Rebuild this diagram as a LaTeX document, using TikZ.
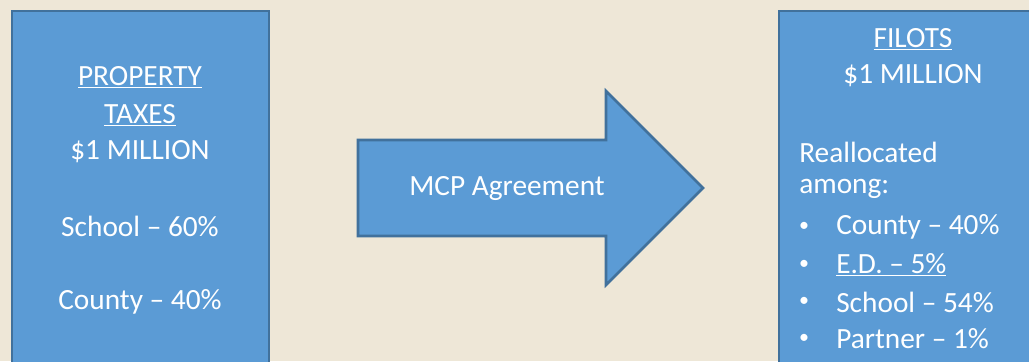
\documentclass[tikz,border=0pt]{standalone}
\usepackage{fontspec}
\setmainfont{Carlito}
\usepackage{xcolor}
\usepackage{tikz}
\usetikzlibrary{positioning}
\definecolor{bgbeige}{HTML}{EEE7D7}
\definecolor{boxblue}{HTML}{5B9BD5}
\definecolor{edgeblue}{HTML}{41719C}
\tikzstyle{panel} = [fill=boxblue, draw=edgeblue, line width=2pt]
\tikzstyle{txt} = [text=white, font=\fontsize{22}{26}\selectfont, inner sep=0pt]
\tikzstyle{dot} = [text=white, font=\fontsize{15}{18}\selectfont, inner sep=0pt]

\begin{document}
\begin{tikzpicture}[x=0.75pt, y=-0.75pt]
% Background
\fill[bgbeige] (0,0) rectangle (1029,361);
\useasboundingbox (0,0) rectangle (1029,361);

% Left box
\draw[panel] (12,11) rectangle (269,375);
\node[txt] (prop) at (140,77) {\underline{PROPERTY}};
\node[txt] (taxes) at (140,115) {\underline{TAXES}};
\node[txt] (lmil) at (140,152) {\$1 MILLION};
\node[txt] (lschool) at (140,226) {School -- 60\%};
\node[txt] (lcounty) at (140,302) {County -- 40\%};

% Arrow
\draw[panel, line join=miter] (358,140) -- (606,140) -- (606,91) -- (703,188)
  -- (606,285) -- (606,236) -- (358,236) -- cycle;
\node[txt] (mcp) at (507,188) {MCP Agreement};

% Right box
\draw[panel] (779,11) rectangle (1045,375);
\node[txt] (filots) at (913,39) {\underline{FILOTS}};
\node[txt] (rmil) at (913,76) {\$1 MILLION};
\node[txt, anchor=west] (realloc) at (799,152) {Reallocated};
\node[txt, anchor=west] (among) at (799,189) {among:};
\foreach \y/\name in {227/bc, 265/be, 302/bs, 339/bp}
  \node[dot] (\name) at (804,\y) {\textbullet};
\node[txt, anchor=west] (rcounty) at (836,227) {County -- 40\%};
\node[txt, anchor=west] (red) at (836,265) {\underline{E.D. -- 5\%}};
\node[txt, anchor=west] (rschool) at (836,302) {School -- 54\%};
\node[txt, anchor=west] (rpartner) at (836,339) {Partner -- 1\%};
\end{tikzpicture}
\end{document}
